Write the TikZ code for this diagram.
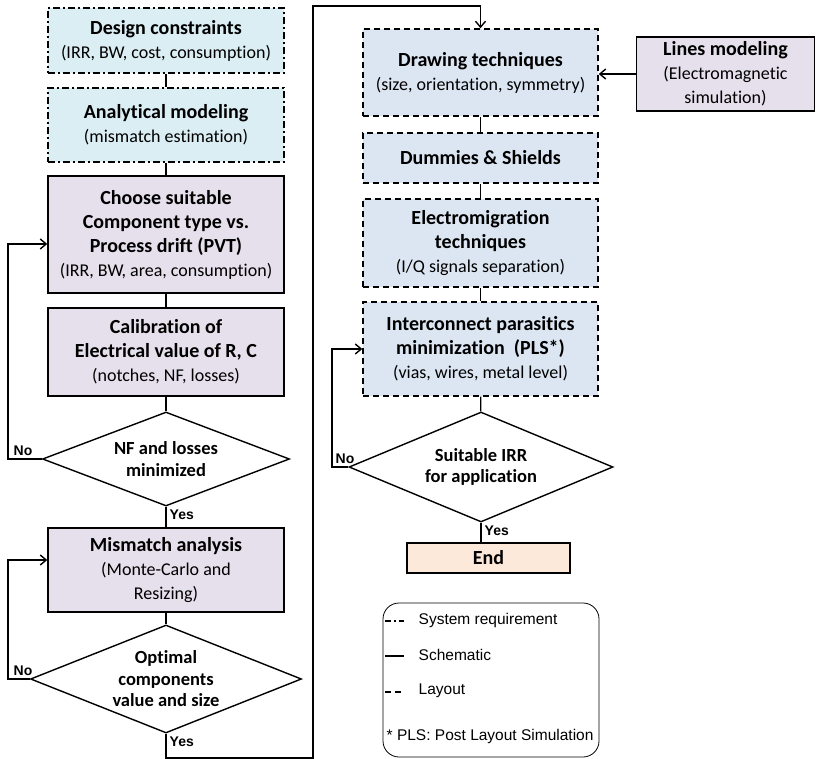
\documentclass[tikz,border=0pt]{standalone}
\usepackage{fontspec}
\setmainfont{Carlito}[Ligatures=NoCommon]
\newfontfamily\arialfont{Liberation Sans}
\usepackage{tikz}
\usetikzlibrary{shapes.geometric,arrows.meta}

\definecolor{sysfill}{RGB}{219,238,244}
\definecolor{schfill}{RGB}{229,224,236}
\definecolor{layfill}{RGB}{220,230,242}
\definecolor{endfill}{RGB}{253,233,217}
\newcommand{\boxtitle}[1]{{\bfseries\fontsize{20}{24}\selectfont #1}}

\begin{document}
\begin{tikzpicture}[x=1pt,y=-1pt,line width=1.4pt,>={Straight Barb[length=6pt,width=10pt]},
    every node/.style={font=\fontsize{18}{24}\selectfont},
    sysbox/.style={draw,fill=sysfill,dash pattern=on 7pt off 3pt on 2pt off 3pt,minimum width=236,align=center,inner sep=1pt},
    schbox/.style={draw,fill=schfill,minimum width=236,align=center,inner sep=1pt},
    laybox/.style={draw,fill=layfill,dash pattern=on 6pt off 4pt,minimum width=235,align=center,inner sep=1pt},
    decision/.style={draw,diamond,aspect=2.4,inner sep=0pt,align=center,font=\bfseries\fontsize{18.5}{21.5}\selectfont},
    yn/.style={font=\arialfont\bfseries\fontsize{14}{16}\selectfont,inner sep=0pt},
    legtext/.style={font=\arialfont\fontsize{15.5}{18}\selectfont,inner sep=0pt,anchor=west}]
  \useasboundingbox (0,0) rectangle (817,759);

  % left column
  \node[sysbox,minimum height=65] (dc) at (166,40.5) {\boxtitle{Design constraints}\\(IRR, BW, cost, consumption)};
  \node[sysbox,minimum height=74] (am) at (166,125) {\boxtitle{Analytical modeling}\\(mismatch estimation)};
  \node[schbox,minimum height=117] (cs) at (166,234.5) {\boxtitle{Choose suitable}\\\boxtitle{Component type vs.}\\\boxtitle{Process drift (PVT)}\\(IRR, BW, area, consumption)};
  \node[schbox,minimum height=88] (cal) at (166,352) {\boxtitle{Calibration of}\\\boxtitle{Electrical value of R, C}\\(notches, NF, losses)};
  \node[decision,minimum width=247,minimum height=94] (nf) at (166,459) {NF and losses\\minimized};
  \node[schbox,minimum height=84] (ma) at (166,570) {\boxtitle{Mismatch analysis}\\(Monte-Carlo and\\Resizing)};
  \node[decision,minimum width=271,minimum height=108] (opt) at (166,679) {Optimal\\components\\value and size};

  % right column
  \node[laybox,minimum height=87] (dt) at (480.5,72.5) {\boxtitle{Drawing techniques}\\(size, orientation, symmetry)};
  \node[laybox,minimum height=50] (ds) at (480.5,158) {\boxtitle{Dummies \& Shields}};
  \node[laybox,minimum height=88] (em) at (480.5,243) {\boxtitle{Electromigration}\\\boxtitle{techniques}\\(I/Q signals separation)};
  \node[laybox,minimum height=94] (ic) at (480.5,349) {\boxtitle{Interconnect parasitics}\\\boxtitle{minimization~ (PLS*)}\\(vias, wires, metal level)};
  \node[decision,minimum width=264,minimum height=110] (suit) at (481,467) {Suitable IRR\\for application};
  \node[draw,fill=endfill,minimum width=163,minimum height=30,inner sep=0pt] (endb) at (488.5,558) {\boxtitle{End}};
  \node[schbox,minimum width=178,minimum height=74] (lm) at (725.5,74) {\boxtitle{Lines modeling}\\(Electromagnetic\\simulation)};

  % connectors
  \draw (dc)--(am);
  \draw (am)--(cs);
  \draw (cs)--(cal);
  \draw (cal)--(nf);
  \draw (nf.south)--(ma.north) node[yn,pos=0,anchor=north west,xshift=3pt,yshift=-2pt]{Yes};
  \draw (ma)--(opt);
  \draw[->] (nf.west) -- (8,459) node[yn,anchor=south west,xshift=5pt,yshift=3pt]{No} |- ([yshift=-9.5pt]cs.west);
  \draw[->] (opt.west) -- (8,679) node[yn,anchor=south west,xshift=5pt,yshift=3pt]{No} |- ([yshift=10pt]ma.west);
  \draw[->] (opt.south) -- (166,758) node[yn,pos=0,anchor=north west,xshift=3pt,yshift=-2pt]{Yes} -| (313,6) -| (dt.north);

  \draw (dt)--(ds);
  \draw (ds)--(em);
  \draw (em)--(ic);
  \draw (ic)--(suit);
  \draw (suit.south)--(suit.south |- endb.north) node[yn,pos=0,anchor=north west,xshift=3pt,yshift=-2pt]{Yes};
  \draw[->] (suit.west) -- (332,467) node[yn,anchor=south west,xshift=3pt,yshift=3pt]{No} |- (ic.west);
  \draw[->] (lm.west) -- (lm.west -| dt.east);

  % legend
  \node[draw,line width=0.8pt,rounded corners=16pt,minimum width=216,minimum height=154] (leg) at (491,680) {};
  \draw[dash pattern=on 6pt off 3pt on 1.5pt off 3pt] (385,621) -- (404,621);
  \draw (385,656) -- (404,656);
  \draw[dash pattern=on 6pt off 4pt] (385,692) -- (404,692);
  \node[legtext] (lsys) at (418,620) {System requirement};
  \node[legtext] (lsch) at (418,655) {Schematic};
  \node[legtext] (llay) at (418,691) {Layout};
  \node[legtext] (lpls) at (386,736) {* PLS: Post Layout Simulation};
\end{tikzpicture}
\end{document}
